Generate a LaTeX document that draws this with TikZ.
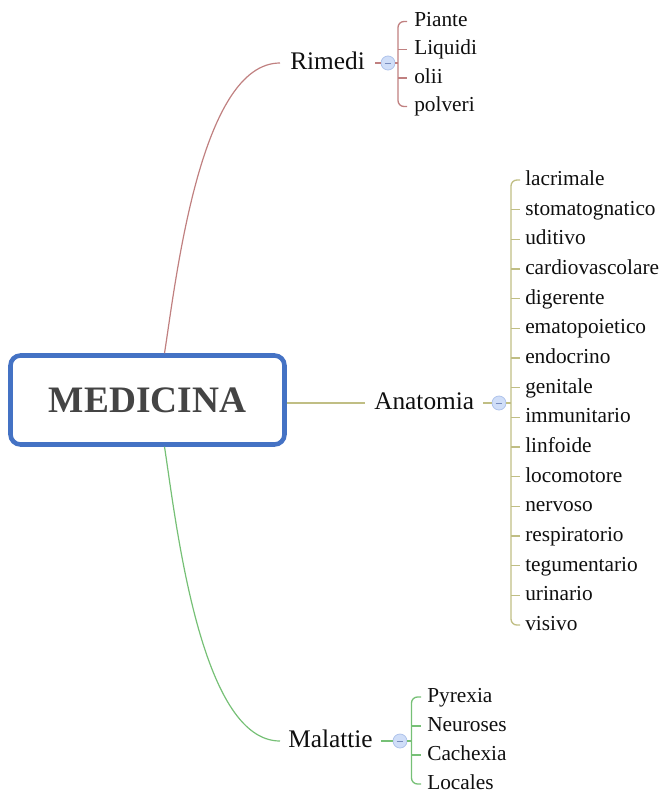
\documentclass[tikz,border=0pt]{standalone}
\usepackage{fontspec}
\setmainfont{Liberation Serif}
\definecolor{boxblue}{RGB}{68,114,196}
\definecolor{rimc}{RGB}{192,128,128}
\definecolor{anac}{RGB}{192,190,132}
\definecolor{malc}{RGB}{118,192,118}
\definecolor{btnfill}{RGB}{208,222,248}
\definecolor{btndraw}{RGB}{175,195,235}
\definecolor{btnminus}{RGB}{120,140,190}
\definecolor{txt}{RGB}{15,15,15}
\definecolor{medtxt}{RGB}{68,68,68}
\begin{document}
\begin{tikzpicture}[x=0.75pt,y=-0.75pt,
  central/.style={draw=boxblue, line width=3.4pt, rounded corners=7.5pt, fill=white,
    minimum width=205.5pt, minimum height=66.75pt, inner sep=0,
    font=\fontsize{28}{30}\selectfont\bfseries, text=medtxt},
  branch/.style={anchor=west, inner ysep=0, font=\fontsize{19}{21}\selectfont, text=txt,
    text height=13.3pt, text depth=3.8pt},
  leaf/.style={anchor=west, inner ysep=0, font=\fontsize{16}{18}\selectfont, text=txt,
    text height=11.2pt, text depth=3.2pt},
  btn/.style={circle, draw=btndraw, fill=btnfill, line width=0.6pt, minimum size=10.5pt, inner sep=0,
    path picture={\draw[btnminus, line width=0.6pt]
      ([xshift=-2.6pt]path picture bounding box.center) -- ([xshift=2.6pt]path picture bounding box.center);}},
  conn/.style={line width=0.9pt},
  brk/.style={line width=1pt, rounded corners=4.5pt},
]
\useasboundingbox (0,0) rectangle (671,793);

% central topic
\node[central] (med) at (147.5,400) {MEDICINA};

% branch topics
\node[branch, inner xsep=7.5pt] (rim) at (280,63) {Rimedi};
\node[branch, inner xsep=6.75pt] (ana) at (365,403) {Anatomia};
\node[branch, inner xsep=6pt] (mal) at (280,741) {Malattie};

% collapse buttons
\node[btn] (crim) at (388,63) {};
\node[btn] (cana) at (499,403) {};
\node[btn] (cmal) at (400,741) {};

% bracket spine points
\coordinate (rbr) at (398,63);
\coordinate (abr) at (511,403);
\coordinate (mbr) at (411.5,741);

% main connectors
\draw[conn, rimc] ([xshift=12.75pt]med.north) .. controls (176,280) and (200,63) .. (rim.west);
\draw[conn, malc] ([xshift=12.75pt]med.south) .. controls (176,521) and (200,741) .. (mal.west);
\draw[conn, anac] (med.east |- ana.west) -- (ana.west);

% short links to buttons
\draw[conn, rimc] (rim.east) -- (crim.west);
\draw[conn, anac] (ana.east) -- (cana.west);
\draw[conn, malc] (mal.east) -- (cmal.west);
\draw[conn, rimc] (crim.east) -- (rbr);
\draw[conn, anac] (cana.east) -- (abr);
\draw[conn, malc] (cmal.east) -- (mbr);

% Rimedi leaves
\foreach \t/\y [count=\i] in {Piante/21.5, Liquidi/49.5, olii/78, polveri/106.5}
  \node[leaf, inner xsep=5.25pt] (r\i) at (407,\y) {\t};
\draw[brk, rimc] (r1.west) -- (r1.west -| rbr) -- (r4.west -| rbr) -- (r4.west);
\foreach \i in {2,3} \draw[brk, rimc] (r\i.west -| rbr) -- (r\i.west);

% Anatomia leaves
\foreach \t [count=\i] in {lacrimale, stomatognatico, uditivo, cardiovascolare, digerente,
  ematopoietico, endocrino, genitale, immunitario, linfoide, locomotore, nervoso,
  respiratorio, tegumentario, urinario, visivo}
  \node[leaf, inner xsep=3.75pt] (a\i) at (520,{180+29.67*(\i-1)}) {\t};
\draw[brk, anac] (a1.west) -- (a1.west -| abr) -- (a16.west -| abr) -- (a16.west);
\foreach \i in {2,...,15} \draw[brk, anac] (a\i.west -| abr) -- (a\i.west);

% Malattie leaves
\foreach \t/\y [count=\i] in {Pyrexia/697, Neuroses/726, Cachexia/755, Locales/784}
  \node[leaf, inner xsep=4.5pt] (m\i) at (421,\y) {\t};
\draw[brk, malc] (m1.west) -- (m1.west -| mbr) -- (m4.west -| mbr) -- (m4.west);
\foreach \i in {2,3} \draw[brk, malc] (m\i.west -| mbr) -- (m\i.west);
\end{tikzpicture}
\end{document}
